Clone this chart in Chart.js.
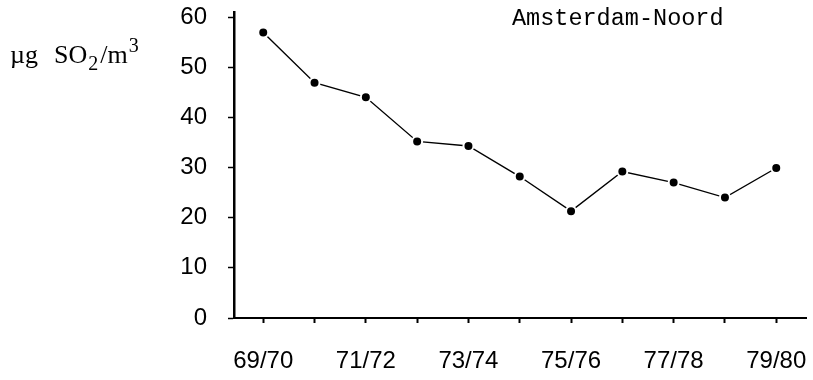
<!DOCTYPE html>
<html>
<head>
<meta charset="utf-8">
<script src="https://cdn.jsdelivr.net/npm/chart.js@4/dist/chart.umd.min.js"></script>
<style>
  html, body { margin: 0; padding: 0; background: #fff; }
  #wrap { width: 813px; height: 380px; position: relative; }
</style>
</head>
<body>
<div id="wrap"><canvas id="so2-chart"></canvas></div>
<script>
// seizoenen (wintergemiddelden)
const seasons = ['69/70', '70/71', '71/72', '72/73', '73/74', '74/75', '75/76', '76/77', '77/78', '78/79', '79/80'];
// µg SO2/m3
const so2Values = [56.9, 46.9, 44.0, 35.2, 34.3, 28.2, 21.3, 29.2, 27.0, 24.0, 29.9];
const yTicks = [0, 10, 20, 30, 40, 50, 60];
const stationName = 'Amsterdam-Noord';

const numFont = { family: '"Liberation Sans", Arimo, sans-serif', size: 24 };

// extra teksten: stationnaam en eenheid met sub/superscript
const textPlugin = {
    id: 'extraText',
    afterDraw(chart) {
        const ctx = chart.ctx;
        const area = chart.chartArea;
        ctx.save();
        ctx.fillStyle = '#000';
        ctx.textBaseline = 'alphabetic';
        ctx.textAlign = 'left';

        // stationnaam
        ctx.font = '23.5px "Liberation Mono", monospace';
        ctx.fillText(stationName, area.left + 278, 25);

        // eenheid
        let x = 10;
        const base = 63;
        const big = '26px "Liberation Serif", serif';
        const small = '20px "Liberation Serif", serif';
        ctx.font = big;
        ctx.fillText('\u00b5g', x, base);
        x += ctx.measureText('\u00b5g').width + 16;
        ctx.fillText('SO', x, base);
        x += ctx.measureText('SO').width + 1;
        ctx.font = small;
        ctx.fillText('2', x, base + 7);
        x += ctx.measureText('2').width + 2;
        ctx.font = big;
        ctx.fillText('/m', x, base);
        x += ctx.measureText('/m').width + 1;
        ctx.font = small;
        ctx.fillText('3', x, base - 11);
        ctx.restore();
    }
};

const ctx = document.getElementById('so2-chart').getContext('2d');

new Chart(ctx, {
    type: 'line',
    data: {
        datasets: [{
            data: so2Values.map((v, i) => ({ x: i, y: v })),
            borderColor: '#000',
            borderWidth: 1.4,
            tension: 0,
            pointRadius: 5,
            pointBackgroundColor: '#000',
            pointBorderColor: '#fff',
            pointBorderWidth: 2
        }]
    },
    options: {
        responsive: true,
        maintainAspectRatio: false,
        animation: false,
        layout: { padding: { left: 0, right: 6, top: 12, bottom: 0 } },
        plugins: {
            legend: { display: false },
            tooltip: { enabled: false },
            title: { display: false }
        },
        scales: {
            x: {
                type: 'linear',
                min: -0.57,
                max: 10.58,
                afterBuildTicks: scale => {
                    scale.ticks = seasons.map((s, i) => ({ value: i }));
                },
                afterFit: scale => {
                    scale.height = 62;
                    scale.paddingLeft = 0;
                    scale.paddingRight = 0;
                },
                border: { display: true, color: '#000', width: 2 },
                grid: {
                    drawOnChartArea: false,
                    drawTicks: true,
                    tickLength: 5,
                    tickWidth: 2,
                    color: '#000'
                },
                ticks: {
                    color: '#000',
                    font: numFont,
                    padding: 24,
                    maxRotation: 0,
                    autoSkip: false,
                    callback: value => (value % 2 === 0 ? seasons[value] : '')
                }
            },
            y: {
                min: 0,
                max: 61,
                afterBuildTicks: scale => {
                    scale.ticks = yTicks.map(v => ({ value: v }));
                },
                afterFit: scale => {
                    scale.width = 234;
                    scale.paddingTop = 0;
                    scale.paddingBottom = 0;
                },
                border: { display: true, color: '#000', width: 2.5 },
                grid: {
                    drawOnChartArea: false,
                    drawTicks: true,
                    tickLength: 6,
                    tickWidth: 1.5,
                    color: '#000'
                },
                ticks: {
                    color: '#000',
                    font: numFont,
                    padding: 21
                }
            }
        }
    },
    plugins: [textPlugin]
});
</script>
</body>
</html>
